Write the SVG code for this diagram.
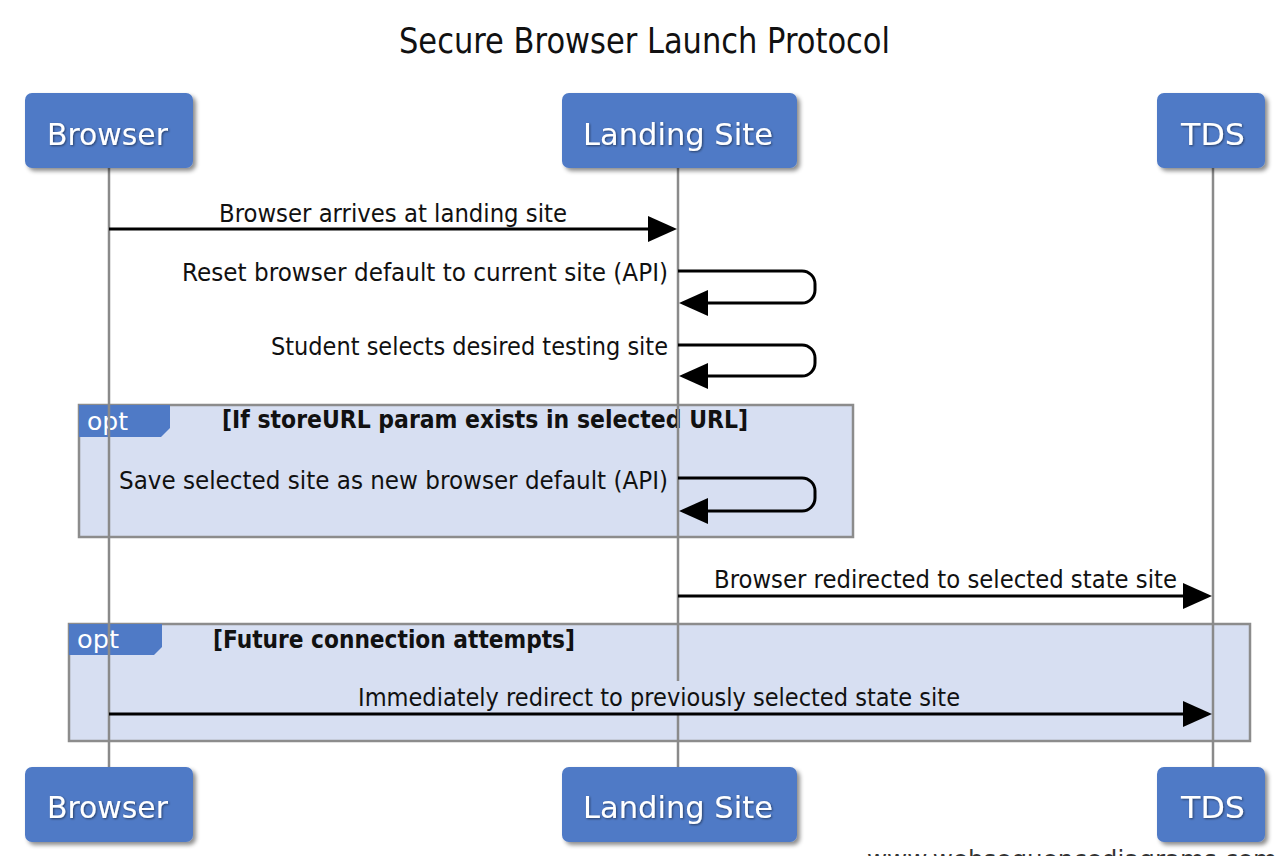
<svg xmlns="http://www.w3.org/2000/svg" width="1282" height="856" viewBox="0 0 1282 856">
<defs>
  <filter id="shadow" x="-10%" y="-10%" width="130%" height="140%">
    <feDropShadow dx="3" dy="3" stdDeviation="2" flood-color="#000" flood-opacity="0.45"/>
  </filter>
  <filter id="tshadow" x="-5%" y="-20%" width="115%" height="150%">
    <feDropShadow dx="1" dy="1" stdDeviation="0.8" flood-color="#000" flood-opacity="0.5"/>
  </filter>
  <marker id="head" markerUnits="userSpaceOnUse" markerWidth="30" markerHeight="27" refX="19" refY="13" orient="auto">
    <path d="M0,0 L29,13 L0,26 z" fill="#000"/>
  </marker>
  <style>
    .box { fill: #4f7ac6; filter: url(#shadow); }
    .plabel { font-family: "DejaVu Sans", "Liberation Sans", sans-serif; font-size: 30px; fill: #fff; filter: url(#tshadow); }
    .life { stroke: #8a8a8a; stroke-width: 2.5; fill: none; }
    .frame { fill: #d7dff2; stroke: #8c8c8c; stroke-width: 2.5; }
    .tag { fill: #4f7ac6; }
    .tagtext { font-family: "DejaVu Sans", "Liberation Sans", sans-serif; font-size: 24px; fill: #fff; }
    .guard { font-family: "DejaVu Sans", "Liberation Sans", sans-serif; font-size: 24px; font-weight: bold; fill: #111; }
    .msg { font-family: "DejaVu Sans", "Liberation Sans", sans-serif; font-size: 24px; fill: #111; }
    .arrow { stroke: #000; stroke-width: 3; fill: none; marker-end: url(#head); }
    .title { font-family: "DejaVu Sans", "Liberation Sans", sans-serif; font-size: 36px; fill: #111; }
    .wm { font-family: "DejaVu Sans", "Liberation Sans", sans-serif; font-size: 24px; fill: #333; }
  </style>
</defs>
<rect x="0" y="0" width="1282" height="856" fill="#fff"/>
<text class="title" x="399" y="53" textLength="491" lengthAdjust="spacingAndGlyphs">Secure Browser Launch Protocol</text>

<g id="frames">
  <g id="opt1">
    <rect class="frame" x="79" y="405" width="774" height="132"/>
    <polygon class="tag" points="79,405 170,405 170,428 161,437 79,437"/>
    <text class="tagtext" x="87" y="430" textLength="41" lengthAdjust="spacingAndGlyphs">opt</text>
    <text class="guard" x="222" y="428" textLength="526" lengthAdjust="spacingAndGlyphs">[If storeURL param exists in selected URL]</text>
  </g>
  <g id="opt2">
    <rect class="frame" x="69" y="624" width="1181" height="117"/>
    <polygon class="tag" points="69,624 162,624 162,647 154,655 69,655"/>
    <text class="tagtext" x="77" y="648" textLength="42" lengthAdjust="spacingAndGlyphs">opt</text>
    <text class="guard" x="213" y="648" textLength="362" lengthAdjust="spacingAndGlyphs">[Future connection attempts]</text>
  </g>
</g>

<g id="lifelines">
  <line class="life" x1="109" y1="168" x2="109" y2="767"/>
  <line class="life" x1="678" y1="168" x2="678" y2="767"/>
  <line class="life" x1="1213" y1="168" x2="1213" y2="767"/>
</g>

<g id="participants">
  <g id="browser-top">
    <rect class="box" x="25" y="93" width="168" height="75" rx="7"/>
    <text class="plabel" x="47" y="145" textLength="121" lengthAdjust="spacingAndGlyphs">Browser</text>
  </g>
  <g id="landing-top">
    <rect class="box" x="562" y="93" width="235" height="75" rx="7"/>
    <text class="plabel" x="583" y="145" textLength="190" lengthAdjust="spacingAndGlyphs">Landing Site</text>
  </g>
  <g id="tds-top">
    <rect class="box" x="1157" y="93" width="108" height="75" rx="7"/>
    <text class="plabel" x="1181" y="145" textLength="64" lengthAdjust="spacingAndGlyphs">TDS</text>
  </g>
  <g id="browser-bottom">
    <rect class="box" x="25" y="767" width="168" height="75" rx="7"/>
    <text class="plabel" x="47" y="818" textLength="121" lengthAdjust="spacingAndGlyphs">Browser</text>
  </g>
  <g id="landing-bottom">
    <rect class="box" x="562" y="767" width="235" height="75" rx="7"/>
    <text class="plabel" x="583" y="818" textLength="190" lengthAdjust="spacingAndGlyphs">Landing Site</text>
  </g>
  <g id="tds-bottom">
    <rect class="box" x="1157" y="767" width="108" height="75" rx="7"/>
    <text class="plabel" x="1181" y="818" textLength="64" lengthAdjust="spacingAndGlyphs">TDS</text>
  </g>
</g>

<g id="connectors">
  <line class="arrow" x1="109" y1="229" x2="667" y2="229"/>
  <text class="msg" x="219" y="222" textLength="348" lengthAdjust="spacingAndGlyphs">Browser arrives at landing site</text>

  <path class="arrow" d="M678,271 H802 A13,13 0 0 1 815,284 V290 A13,13 0 0 1 802,303 H689"/>
  <text class="msg" x="182" y="281" textLength="486" lengthAdjust="spacingAndGlyphs">Reset browser default to current site (API)</text>

  <path class="arrow" d="M678,345 H802 A13,13 0 0 1 815,358 V363 A13,13 0 0 1 802,376 H689"/>
  <text class="msg" x="271" y="355" textLength="397" lengthAdjust="spacingAndGlyphs">Student selects desired testing site</text>

  <path class="arrow" d="M678,478 H802 A13,13 0 0 1 815,491 V498 A13,13 0 0 1 802,511 H689"/>
  <text class="msg" x="119" y="489" textLength="549" lengthAdjust="spacingAndGlyphs">Save selected site as new browser default (API)</text>

  <line class="arrow" x1="678" y1="596" x2="1202" y2="596"/>
  <text class="msg" x="714" y="588" textLength="463" lengthAdjust="spacingAndGlyphs">Browser redirected to selected state site</text>

  <rect x="356" y="681" width="606" height="32" fill="#d7dff2"/>
  <line class="arrow" x1="109" y1="714" x2="1202" y2="714"/>
  <text class="msg" x="358" y="706" textLength="602" lengthAdjust="spacingAndGlyphs">Immediately redirect to previously selected state site</text>
</g>

<text class="wm" x="867" y="868" textLength="410" lengthAdjust="spacingAndGlyphs">www.websequencediagrams.com</text>
</svg>
